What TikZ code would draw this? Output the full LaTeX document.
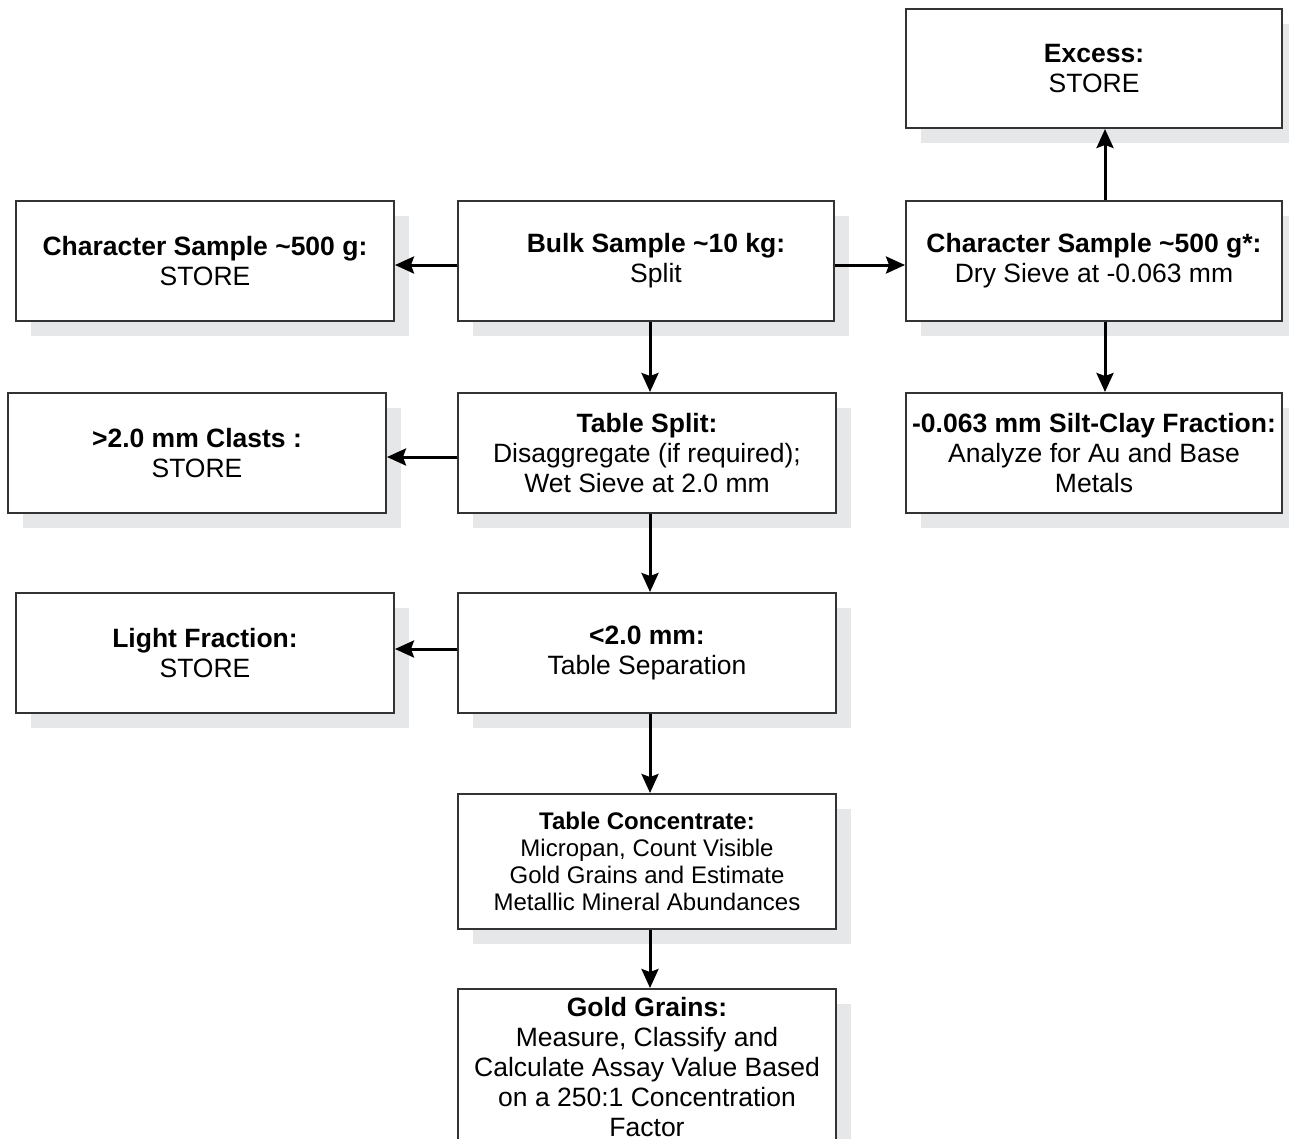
\documentclass[tikz,border=0pt]{standalone}
\usepackage{fontspec}
\setmainfont{Liberation Sans}
\usetikzlibrary{arrows.meta,shadows}
\definecolor{sgray}{HTML}{E6E7E8}
\definecolor{edge}{HTML}{333333}
\begin{document}
\begin{tikzpicture}[x=1pt,y=-1pt,
  box/.style={draw=edge, line width=2pt, fill=white, anchor=north west,
    inner sep=0pt, align=center, minimum width=378pt, minimum height=120pt,
    font=\fontsize{26.5}{30}\selectfont,
    drop shadow={shadow xshift=15pt, shadow yshift=-15pt, fill=sgray, opacity=1}},
  arr/.style={draw=black, line width=3pt, -{Stealth[length=19pt,width=17pt,inset=3pt]}}
]
\useasboundingbox (0,0) rectangle (1289,1138);

\node[box, minimum width=376pt, minimum height=119pt] (excess) at (905,8) {\textbf{Excess:}\\STORE};
\node[box] (charL) at (15,200) {\textbf{Character Sample \textasciitilde500 g:}\\STORE};
\node[box, minimum width=376pt] (bulk) at (457,200) {};
\node (bulktxt) at ([xshift=10pt]bulk.center) [align=center, font=\fontsize{26.5}{30}\selectfont] {\textbf{Bulk Sample \textasciitilde10 kg:}\\Split};
\node[box, minimum width=376pt] (charR) at (905,200) {\textbf{Character Sample \textasciitilde500 g*:}\\Dry Sieve at -0.063 mm};
\node[box] (clasts) at (7,392) {\textbf{>2.0 mm Clasts :}\\STORE};
\node[box] (tsplit) at (457,392) {\textbf{Table Split:}\\Disaggregate (if required);\\Wet Sieve at 2.0 mm};
\node[box, minimum width=376pt] (silt) at (905,392) {\textbf{-0.063 mm Silt-Clay Fraction:}\\Analyze for Au and Base\\Metals};
\node[box] (light) at (15,592) {\textbf{Light Fraction:}\\STORE};
\node[box] (lt2) at (457,592) {\textbf{<2.0 mm:}\\Table Separation};
\node[box, minimum height=135pt, font=\fontsize{24}{27}\selectfont] (tconc) at (457,793) {\textbf{Table Concentrate:}\\Micropan, Count Visible\\Gold Grains and Estimate\\Metallic Mineral Abundances};
\node[box, minimum height=156pt] (gold) at (457,988) {\textbf{Gold Grains:}\\Measure, Classify and\\Calculate Assay Value Based\\on a 250:1 Concentration\\Factor};

\draw[arr] ([yshift=-4pt]bulk.west) -- ([yshift=-4pt]charL.east);
\draw[arr] ([yshift=-4pt]bulk.east) -- ([yshift=-4pt]charR.west);
\draw[arr] ([xshift=11pt]charR.north) -- ([xshift=11pt]excess.south);
\draw[arr] ([xshift=11pt]charR.south) -- ([xshift=11pt]silt.north);
\draw[arr] ([xshift=4pt]bulk.south) -- ([xshift=3pt]tsplit.north);
\draw[arr] ([yshift=-4pt]tsplit.west) -- ([yshift=-4pt]clasts.east);
\draw[arr] ([xshift=3pt]tsplit.south) -- ([xshift=3pt]lt2.north);
\draw[arr] ([yshift=4pt]lt2.west) -- ([yshift=4pt]light.east);
\draw[arr] ([xshift=3pt]lt2.south) -- ([xshift=3pt]tconc.north);
\draw[arr] ([xshift=3pt]tconc.south) -- ([xshift=3pt]gold.north);
\end{tikzpicture}
\end{document}
